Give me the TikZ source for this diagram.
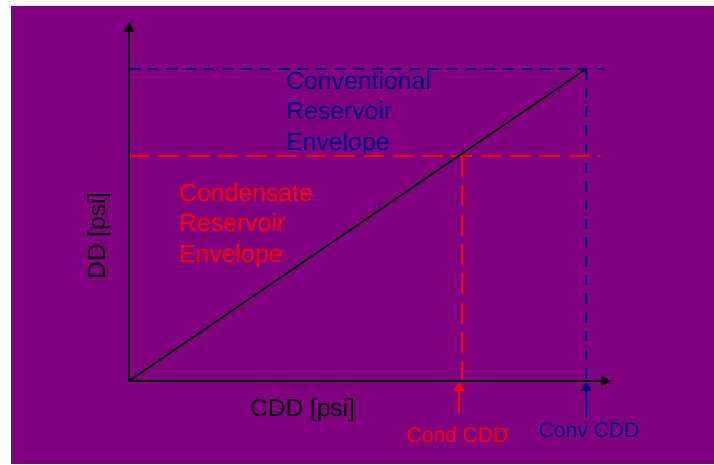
\documentclass[tikz,border=0pt]{standalone}
\usepackage{fontspec}
\setmainfont{Liberation Sans}
\usetikzlibrary{arrows.meta}
\definecolor{bgpurple}{HTML}{800080}
\definecolor{convblue}{HTML}{000080}
\tikzset{axis/.style={line width=2.4pt, -{Triangle[width=10pt,length=10pt]}},
%dashed envelope lines
convline/.style={convblue, line width=2.5pt, dash pattern=on 10.5pt off 8.2pt},
condline/.style={red, line width=2.9pt, dash pattern=on 21pt off 8.3pt},
marker/.style={line width=2.2pt, -{Triangle[width=11pt,length=9pt]}},
envtext/.style={anchor=north west, inner sep=0pt, align=left, font=\fontsize{24.8}{30.5}\selectfont},
ticktext/.style={anchor=base, inner sep=0pt, font=\fontsize{21}{24}\selectfont}}

\begin{document}
\begin{tikzpicture}[x=1pt,y=-1pt]
\useasboundingbox (0,0) rectangle (714,464);
\fill[bgpurple] (11,6) rectangle (714,464);

\coordinate (O) at (129,381);
\coordinate (ytip) at (129,22);
\coordinate (xtip) at (611,381);
\coordinate (conv) at (586,69);
\coordinate (cond) at (462,156);

% envelopes
\draw[convline] (O |- conv) -- (604,69);
\draw[convline] (conv) -- (conv |- O);
\draw[condline] (O |- cond) -- (600,156);
\draw[condline] (cond) -- (cond |- O);

% axes
\draw[axis] (O) -- (ytip);
\draw[axis] (O) -- (xtip);
\draw[line width=1.8pt] (O) -- (conv);

%labels
\node[rotate=90, anchor=base, font=\fontsize{24.5}{28}\selectfont] (ddlab) at (105,236) {DD [psi]};
\node[anchor=base west, inner sep=0pt, font=\fontsize{24.5}{28}\selectfont] (cddlab) at (250,416) {CDD [psi]};
\node[envtext, text=convblue] (convenv) at (286,71) {Conventional\\Reservoir\\Envelope};
\node[envtext, text=red] (condenv) at (179,183) {Condensate\\Reservoir\\Envelope};

% markers below the CDD axis
\coordinate (condfoot) at (459,413);
\coordinate (convfoot) at (586,418);
\draw[marker, red] (condfoot) -- (condfoot |- 0,382);
\draw[marker, convblue] (convfoot) -- (convfoot |- 0,382);
\node[ticktext, text=red] (condcdd) at (457.5,442) {Cond CDD};
\node[ticktext, text=convblue] (convcdd) at (589,437) {Conv CDD};
\end{tikzpicture}
\end{document}
